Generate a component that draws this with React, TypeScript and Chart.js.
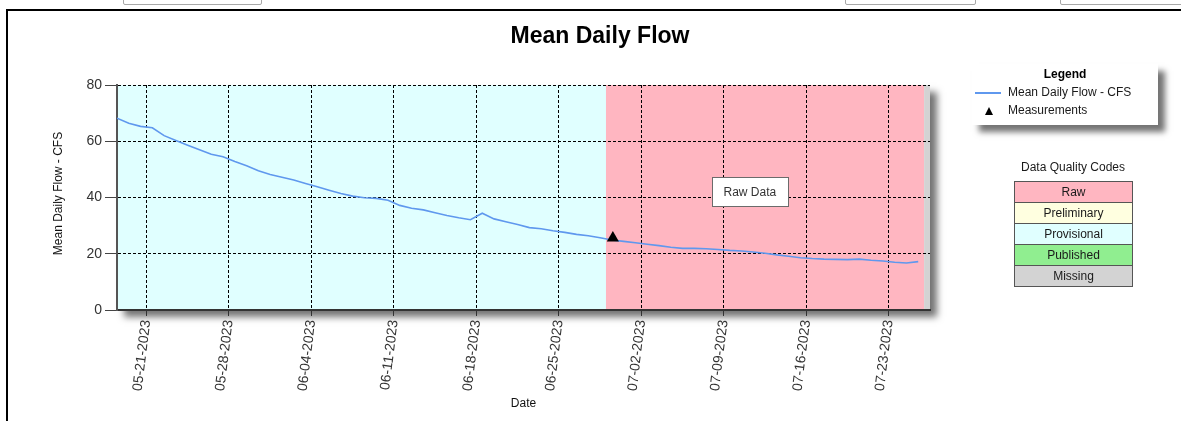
import React, { useEffect, useRef } from "react";
import { Chart, registerables } from "chart.js";

Chart.register(...registerables);

const FONT = '"Liberation Sans", Arial, Helvetica, sans-serif';

// ---- data ----
const dates = [
  "2023-05-18", "2023-05-19", "2023-05-20", "2023-05-21", "2023-05-22", "2023-05-23", "2023-05-24",
  "2023-05-25", "2023-05-26", "2023-05-27", "2023-05-28", "2023-05-29", "2023-05-30", "2023-05-31",
  "2023-06-01", "2023-06-02", "2023-06-03", "2023-06-04", "2023-06-05", "2023-06-06", "2023-06-07",
  "2023-06-08", "2023-06-09", "2023-06-10", "2023-06-11", "2023-06-12", "2023-06-13", "2023-06-14",
  "2023-06-15", "2023-06-16", "2023-06-17", "2023-06-18", "2023-06-19", "2023-06-20", "2023-06-21",
  "2023-06-22", "2023-06-23", "2023-06-24", "2023-06-25", "2023-06-26", "2023-06-27", "2023-06-28",
  "2023-06-29", "2023-06-30", "2023-07-01", "2023-07-02", "2023-07-03", "2023-07-04", "2023-07-05",
  "2023-07-06", "2023-07-07", "2023-07-08", "2023-07-09", "2023-07-10", "2023-07-11", "2023-07-12",
  "2023-07-13", "2023-07-14", "2023-07-15", "2023-07-16", "2023-07-17", "2023-07-18", "2023-07-19",
  "2023-07-20", "2023-07-21", "2023-07-22", "2023-07-23", "2023-07-24", "2023-07-25",
];

const flows = [
  68.2, 66.4, 65.3, 64.8, 62.0, 60.3, 58.6,
  57.0, 55.4, 54.5, 52.8, 51.3, 49.5, 48.2,
  47.2, 46.2, 45.0, 43.8, 42.6, 41.4, 40.5,
  39.9, 39.7, 39.0, 37.2, 36.2, 35.6, 34.6,
  33.6, 32.8, 32.1, 34.4, 32.4, 31.4, 30.4,
  29.3, 28.9, 28.2, 27.6, 26.9, 26.4, 25.7,
  24.9, 24.4, 23.9, 23.4, 22.9, 22.3, 21.9,
  21.9, 21.8, 21.5, 21.2, 21.0, 20.6, 20.2,
  19.6, 19.1, 18.6, 18.3, 18.1, 18.0, 17.9,
  18.1, 17.7, 17.4, 17.0, 16.7, 17.2,
];

const measurementDates = ["2023-06-29T14:00"];
const measurementValues = [25.6];

const tickDates = [
  "2023-05-21", "2023-05-28", "2023-06-04", "2023-06-11", "2023-06-18",
  "2023-06-25", "2023-07-02", "2023-07-09", "2023-07-16", "2023-07-23",
];
const tickLabels = [
  "05-21-2023", "05-28-2023", "06-04-2023", "06-11-2023", "06-18-2023",
  "06-25-2023", "07-02-2023", "07-09-2023", "07-16-2023", "07-23-2023",
];
const yMin = 0;
const yMax = 80;
const yStep = 20;

const qualityCodes = ["Raw", "Preliminary", "Provisional", "Published", "Missing"];
const qualityColors = ["#FFB6C1", "#FFFFE0", "#E0FFFF", "#90EE90", "#D3D3D3"];

const periodStarts = ["2023-05-18T12:00", "2023-06-29T00:00", "2023-07-26T00:00"];
const periodEnds = ["2023-06-29T00:00", "2023-07-26T00:00", "2023-07-26T12:00"];
const periodCodes = ["Provisional", "Raw", "Missing"];

const axisStart = "2023-05-18T12:00";
const axisEnd = "2023-07-26T12:00";

const rawLabelText = "Raw Data";
const rawLabelDate = "2023-07-11T05:00";
const rawLabelValue = 42;

const chartTitle = "Mean Daily Flow";
const yTitle = "Mean Daily Flow - CFS";
const xTitle = "Date";
const legendTitle = "Legend";
const seriesName = "Mean Daily Flow - CFS";
const measurementName = "Measurements";
const qualityTitle = "Data Quality Codes";

// ---- helpers ----
const BASE = Date.UTC(2023, 4, 21);
function toDay(s: string): number {
  const [d, t] = s.split("T");
  const [Y, M, D] = d.split("-").map(Number);
  let h = 0;
  let m = 0;
  if (t) [h, m] = t.split(":").map(Number);
  return (Date.UTC(Y, M - 1, D, h, m) - BASE) / 86400000;
}

const bgPlugin = {
  id: "dqBackground",
  beforeDraw(chart: any) {
    const { ctx, chartArea: a, scales } = chart;
    const x = scales.x;
    ctx.save();
    // drop shadow of the plot area
    ctx.shadowColor = "rgba(0,0,0,0.55)";
    ctx.shadowBlur = 7;
    ctx.shadowOffsetX = 7;
    ctx.shadowOffsetY = 7;
    ctx.fillStyle = "#ffffff";
    ctx.fillRect(a.left, a.top, a.right - a.left, a.bottom - a.top);
    ctx.restore();
    ctx.save();
    for (let i = 0; i < periodCodes.length; i++) {
      const x0 = Math.max(a.left, x.getPixelForValue(toDay(periodStarts[i])));
      const x1 = Math.min(a.right, x.getPixelForValue(toDay(periodEnds[i])));
      ctx.fillStyle = qualityColors[qualityCodes.indexOf(periodCodes[i])];
      ctx.fillRect(x0, a.top, x1 - x0, a.bottom - a.top);
    }
    ctx.restore();
  },
  afterDraw(chart: any) {
    const { ctx, chartArea: a, scales } = chart;
    const x = scales.x;
    const y = scales.y;
    ctx.save();
    // Raw data label
    ctx.font = `12px ${FONT}`;
    const cx = x.getPixelForValue(toDay(rawLabelDate));
    const cy = y.getPixelForValue(rawLabelValue);
    const w = 76;
    const h = 29;
    ctx.fillStyle = "#ffffff";
    ctx.fillRect(Math.round(cx - w / 2) + 0.5, Math.round(cy - h / 2) + 0.5, w, h);
    ctx.strokeStyle = "#6b6b6b";
    ctx.lineWidth = 1;
    ctx.strokeRect(Math.round(cx - w / 2) + 0.5, Math.round(cy - h / 2) + 0.5, w, h);
    ctx.fillStyle = "#333333";
    ctx.textAlign = "center";
    ctx.textBaseline = "middle";
    ctx.fillText(rawLabelText, cx, cy + 1);

    // chart title
    ctx.font = `bold 23px ${FONT}`;
    ctx.fillStyle = "#000000";
    ctx.fillText(chartTitle, 600, 37);

    // axis titles
    ctx.font = `12px ${FONT}`;
    ctx.fillStyle = "#111111";
    ctx.fillText(xTitle, (a.left + a.right) / 2, 404);
    ctx.translate(59, (a.top + a.bottom) / 2 - 4);
    ctx.rotate(-Math.PI / 2);
    ctx.fillText(yTitle, 0, 0);
    ctx.restore();
  },
};

function ChartCanvas() {
  const ref = useRef<HTMLCanvasElement | null>(null);
  useEffect(() => {
    if (!ref.current) return;
    const flowPoints = dates.map((d, i) => ({ x: toDay(d) + 0.5, y: flows[i] }));
    const measPoints = measurementDates.map((d, i) => ({ x: toDay(d), y: measurementValues[i] }));
    const tickValues = tickDates.map(toDay);
    const chart = new Chart(ref.current, {
      type: "line",
      data: {
        datasets: [
          {
            label: measurementName,
            data: measPoints,
            showLine: false,
            pointStyle: "triangle",
            pointRadius: 7,
            pointBackgroundColor: "#000000",
            pointBorderColor: "#000000",
            pointBorderWidth: 0,
            order: 0,
          },
          {
            label: seriesName,
            data: flowPoints,
            borderColor: "#5f98ee",
            borderWidth: 1.6,
            pointRadius: 0,
            tension: 0,
            fill: false,
            order: 1,
          },
        ],
      },
      options: {
        responsive: false,
        animation: false,
        devicePixelRatio: 1,
        layout: { padding: { left: 0, right: 251, top: 85, bottom: 0 } },
        plugins: {
          legend: { display: false },
          tooltip: { enabled: false },
          title: { display: false },
        },
        events: [],
        scales: {
          x: {
            type: "linear",
            min: toDay(axisStart),
            max: toDay(axisEnd),
            afterBuildTicks: (scale: any) => {
              scale.ticks = tickValues.map((v) => ({ value: v }));
            },
            afterFit: (scale: any) => {
              scale.height = 111;
            },
            ticks: {
              autoSkip: false,
              minRotation: 83,
              maxRotation: 83,
              padding: 3,
              color: "#333333",
              font: { family: FONT, size: 14 },
              callback: (_v: any, i: number) => tickLabels[i],
            },
            grid: {
              color: "#000000",
              lineWidth: 1,
              drawTicks: true,
              tickLength: 6,
              tickColor: "#333333",
              tickWidth: 1,
            },
            border: { display: true, color: "#333333", width: 2, dash: [3, 2] },
          },
          y: {
            min: yMin,
            max: yMax,
            afterFit: (scale: any) => {
              scale.width = 117;
            },
            ticks: {
              stepSize: yStep,
              padding: 3,
              color: "#333333",
              font: { family: FONT, size: 14 },
            },
            grid: {
              color: "#000000",
              lineWidth: 1,
              drawTicks: true,
              tickLength: 12,
              tickColor: "#444444",
              tickWidth: 1,
            },
            border: { display: true, color: "#555555", width: 2, dash: [3, 2] },
          },
        },
      },
      plugins: [bgPlugin],
    } as any);
    return () => chart.destroy();
  }, []);
  return (
    <canvas
      ref={ref}
      width={1181}
      height={421}
      style={{ position: "absolute", left: 0, top: 0, width: 1181, height: 421 }}
    />
  );
}

export default function App() {
  const txt: React.CSSProperties = { fontFamily: FONT, fontSize: 12, color: "#1a1a1a", whiteSpace: "nowrap" };
  return (
    <div style={{ position: "absolute", left: 0, top: 0, width: 1181, height: 421, overflow: "hidden", background: "#ffffff" }}>
      {/* partial controls above the frame */}
      <div style={{ position: "absolute", left: 123, top: -8, width: 137, height: 11, border: "1px solid #a8a8a8", borderRadius: 2 }} />
      <div style={{ position: "absolute", left: 845, top: -8, width: 129, height: 11, border: "1px solid #a8a8a8", borderRadius: 2 }} />
      <div style={{ position: "absolute", left: 1060, top: -8, width: 140, height: 11, border: "1px solid #a8a8a8", borderRadius: 2 }} />
      {/* frame */}
      <div style={{ position: "absolute", left: 6, top: 9, width: 1200, height: 440, borderTop: "2px solid #000", borderLeft: "2px solid #000" }} />
      <ChartCanvas />
      {/* legend */}
      <div
        style={{
          position: "absolute",
          left: 972,
          top: 64,
          width: 186,
          height: 61,
          background: "#ffffff",
          boxShadow: "7px 7px 6px rgba(0,0,0,0.55)",
        }}
      >
        <div style={{ ...txt, position: "absolute", left: 0, width: 186, top: 3, textAlign: "center", fontWeight: "bold", color: "#000" }}>
          {legendTitle}
        </div>
        <div style={{ position: "absolute", left: 3, top: 28, width: 26, height: 2, background: "#5f98ee" }} />
        <div style={{ ...txt, position: "absolute", left: 36, top: 21 }}>{seriesName}</div>
        <div
          style={{
            position: "absolute",
            left: 13,
            top: 43,
            width: 0,
            height: 0,
            borderLeft: "4px solid transparent",
            borderRight: "4px solid transparent",
            borderBottom: "8px solid #000",
          }}
        />
        <div style={{ ...txt, position: "absolute", left: 36, top: 39 }}>{measurementName}</div>
      </div>
      {/* data quality codes */}
      <div style={{ ...txt, position: "absolute", left: 1013, width: 120, top: 160, textAlign: "center" }}>{qualityTitle}</div>
      {qualityCodes.map((c, i) => (
        <div
          key={c}
          style={{
            ...txt,
            position: "absolute",
            left: 1014,
            top: 181 + i * 21,
            width: 117,
            height: 20,
            lineHeight: "20px",
            textAlign: "center",
            background: qualityColors[i],
            border: "1px solid #555555",
            boxSizing: "content-box",
          }}
        >
          {c}
        </div>
      ))}
    </div>
  );
}
